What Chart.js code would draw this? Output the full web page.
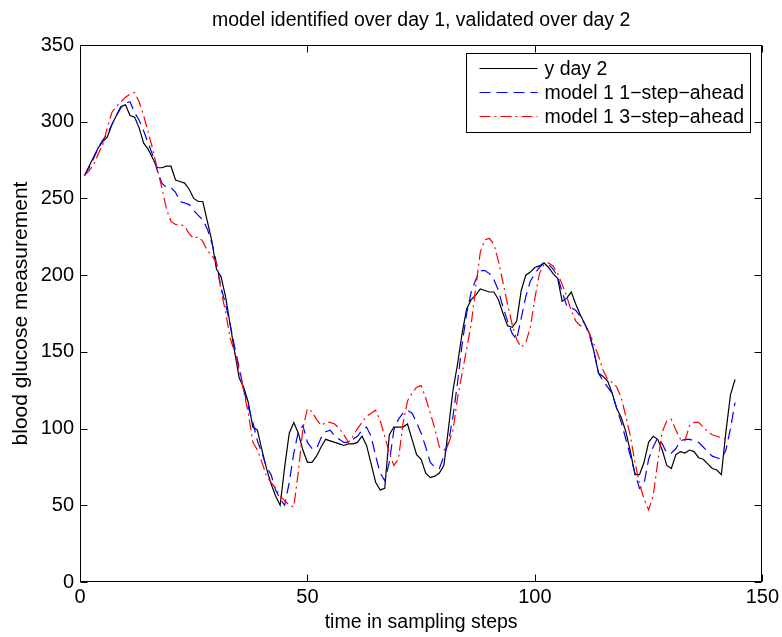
<!DOCTYPE html>
<html><head><meta charset="utf-8">
<script src="https://cdn.jsdelivr.net/npm/chart.js@4.4.1/dist/chart.umd.min.js"></script>
<style>html,body{margin:0;padding:0;background:#fff}canvas{display:block}</style>
</head><body>
<canvas id="c" width="782" height="637"></canvas>
<script>
// ---- data ----
const chartTitle = 'model identified over day 1, validated over day 2';
const xAxisTitle = 'time in sampling steps';
const yAxisTitle = 'blood glucose measurement';
const seriesNames = ['y day 2', 'model 1 1\u2212step\u2212ahead', 'model 1 3\u2212step\u2212ahead'];
const xTicks = [0, 50, 100, 150];
const yTicks = [0, 50, 100, 150, 200, 250, 300, 350];

const yDay2 = [
 265,271,277,283,287,290,298,304,310,311,
 304,303,296,286,282,276,270,270,271,271,
 262,261,260,256,250,248,248,235,222,204,
 199,186,168,150,133,127,117,101,99,86,
 74,64,56,50,75,97,104,97,86,78,
 78,82,88,93,92,91,90,89,90,90,
 91,95,89,77,65,60,61,96,101,101,
 101,103,93,83,80,71,68,69,71,76,
 100,125,142,162,178,184,187,191,190,189,
 189,184,175,167,166,170,190,200,202,205,
 206,208,205,201,198,183,185,189,181,174,
 168,162,150,136,134,131,123,113,107,98,
 85,70,70,78,91,95,93,86,76,74,
 83,85,84,86,85,81,80,77,74,73,
 70,98,122,132
];
const model1Step1 = [
 265,270,276,283,288,292,298,304,309,312,
 313,306,301,294,286,278,268,260,257,257,
 254,248,247,246,242,239,236,230,221,208,
 192,181,168,153,140,125,114,104,92,84,
 75,70,60,54,50,65,84,98,102,91,
 87,87,94,98,99,95,93,91,91,93,
 95,99,101,95,82,71,66,78,99,106,
 110,112,110,104,97,88,78,75,74,82,
 91,108,130,155,175,189,197,203,203,201,
 197,190,179,170,162,158,172,186,196,201,
 205,208,207,204,199,189,180,179,177,173,
 168,161,150,136,131,127,123,113,104,93,
 82,71,61,64,80,88,94,90,84,84,
 87,92,93,93,92,91,88,85,82,81,
 80,86,100,117
];
const model1Step3 = [
 265,268,272,279,285,296,306,310,313,316,
 318,319,313,304,293,282,269,257,243,235,
 233,233,232,227,224,225,222,216,213,208,
 190,176,159,150,138,124,110,91,86,78,
 69,65,61,56,53,50,49,72,100,113,
 111,106,102,104,104,103,100,96,91,95,
 100,104,108,110,112,105,95,84,76,80,
 103,118,123,127,128,120,110,100,88,86,
 90,99,120,136,152,168,192,215,223,224,
 220,209,195,181,168,158,153,156,166,185,
 201,207,208,206,201,194,186,177,170,167,
 168,162,155,147,138,132,130,127,120,108,
 95,78,64,54,47,56,78,98,105,106,
 99,93,92,102,104,104,101,98,96,95,
 94,93
];
const firstStep = 1;

// ---- chart ----
const FONT = '"Liberation Sans", Arial, Helvetica, sans-serif';
const toPoints = arr => arr.map((v, i) => ({x: firstStep + i, y: v}));

const frameAndLegend = {
  id: 'frameAndLegend',
  afterDraw(chart) {
    const {ctx, chartArea: ca, scales: {x, y}} = chart;
    const L = Math.round(ca.left) + 0.5, R = Math.round(ca.right) - 0.5;
    const T = Math.round(ca.top) + 0.5, B = Math.round(ca.bottom) - 0.5;
    ctx.save();
    // title centred over the axes
    ctx.fillStyle = '#000';
    ctx.font = '19.5px ' + FONT;
    ctx.textAlign = 'center';
    ctx.textBaseline = 'middle';
    ctx.fillText(chartTitle, (ca.left + ca.right) / 2, 21);

    ctx.strokeStyle = '#000';
    ctx.lineWidth = 1;
    ctx.setLineDash([]);
    ctx.strokeRect(L, T, R - L, B - T);
    const tl = 7;
    ctx.beginPath();
    xTicks.forEach(v => {
      const px = Math.round(x.getPixelForValue(v)) + 0.5;
      ctx.moveTo(px, B); ctx.lineTo(px, B - tl);
      ctx.moveTo(px, T); ctx.lineTo(px, T + tl);
    });
    yTicks.forEach(v => {
      const py = Math.round(y.getPixelForValue(v)) + 0.5;
      ctx.moveTo(L, py); ctx.lineTo(L + tl, py);
      ctx.moveTo(R, py); ctx.lineTo(R - tl, py);
    });
    ctx.stroke();

    // legend box (inside top-right)
    const bw = 284, bh = 79;
    const bx = Math.round(ca.right) - 12 - bw + 0.5;
    const by = Math.round(ca.top) + 8 + 0.5;
    ctx.fillStyle = '#fff';
    ctx.fillRect(bx, by, bw, bh);
    ctx.strokeStyle = '#000';
    ctx.strokeRect(bx, by, bw, bh);
    ctx.font = '19.5px ' + FONT;
    ctx.textBaseline = 'middle';
    ctx.textAlign = 'left';
    chart.data.datasets.forEach((ds, i) => {
      const ry = by + 15 + i * 24;
      ctx.strokeStyle = ds.borderColor;
      ctx.lineWidth = ds.borderWidth;
      ctx.setLineDash(ds.borderDash || []);
      ctx.beginPath();
      ctx.moveTo(bx + 13, ry);
      ctx.lineTo(bx + 71, ry);
      ctx.stroke();
      ctx.setLineDash([]);
      ctx.fillStyle = '#000';
      ctx.fillText(ds.label, bx + 78, ry + 1);
    });
    ctx.restore();
  }
};

new Chart(document.getElementById('c'), {
  type: 'line',
  data: {
    datasets: [
      {label: seriesNames[0], data: toPoints(yDay2), borderColor: '#000000', borderWidth: 1.2, borderDash: [], pointRadius: 0, fill: false, order: 3, tension: 0},
      {label: seriesNames[1], data: toPoints(model1Step1), borderColor: '#0000ff', borderWidth: 1.2, borderDash: [11, 6], pointRadius: 0, fill: false, order: 2, tension: 0},
      {label: seriesNames[2], data: toPoints(model1Step3), borderColor: '#ff0000', borderWidth: 1.2, borderDash: [11, 4, 2, 4], pointRadius: 0, fill: false, order: 1, tension: 0}
    ]
  },
  options: {
    responsive: false,
    animation: false,
    devicePixelRatio: 1,
    layout: {padding: {left: 0, right: 17, top: 45, bottom: 0}},
    plugins: {
      legend: {display: false},
      tooltip: {enabled: false},
      title: {display: false}
    },
    scales: {
      x: {
        type: 'linear', min: 0, max: 150,
        afterBuildTicks: a => { a.ticks = xTicks.map(v => ({value: v})); },
        afterFit: a => { a.height = 55; },
        grid: {display: false, drawTicks: false},
        border: {display: false},
        ticks: {color: '#000', font: {family: FONT, size: 20}, padding: 3, maxRotation: 0, autoSkip: false},
        title: {display: true, text: xAxisTitle, color: '#000', font: {family: FONT, size: 19.5}, padding: {top: 0, bottom: 3}}
      },
      y: {
        type: 'linear', min: 0, max: 350,
        afterBuildTicks: a => { a.ticks = yTicks.map(v => ({value: v})); },
        afterFit: a => { a.width = 80; },
        grid: {display: false, drawTicks: false},
        border: {display: false},
        ticks: {color: '#000', font: {family: FONT, size: 20}, padding: 6, autoSkip: false},
        title: {display: true, text: yAxisTitle, color: '#000', font: {family: FONT, size: 21}, padding: {top: 9, bottom: 0}}
      }
    }
  },
  plugins: [frameAndLegend]
});
</script>
</body></html>
